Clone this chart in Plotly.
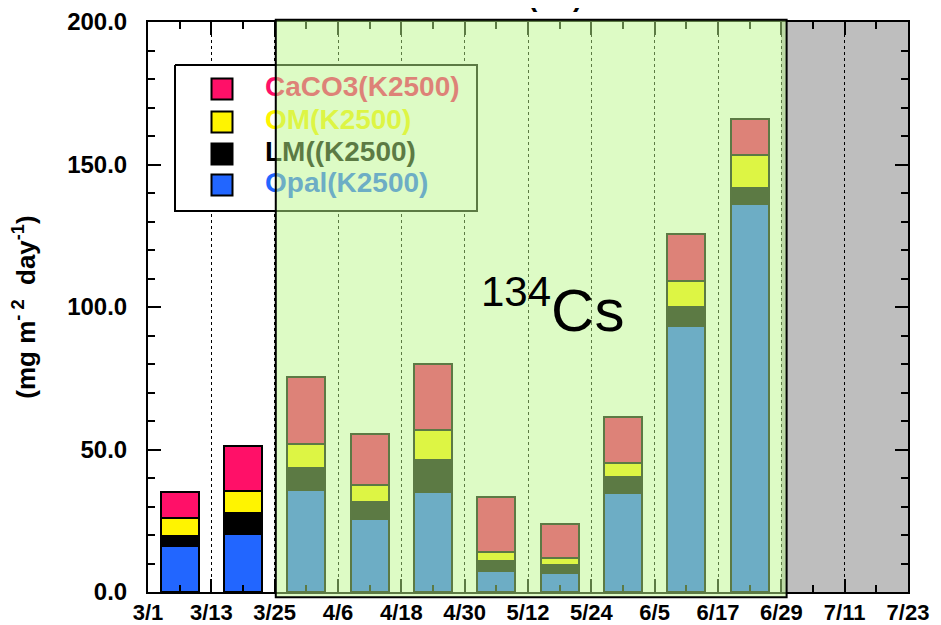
import plotly.graph_objects as go

# ---- data (mg m-2 day-1), bar centred on each 12-day sampling interval ----
dates = ["2011-03-07", "2011-03-19", "2011-03-31", "2011-04-12", "2011-04-24",
         "2011-05-06", "2011-05-18", "2011-05-30", "2011-06-11", "2011-06-23"]
opal = [16.1, 20.5, 35.9, 25.7, 35.2, 7.3, 6.6, 34.6, 93.4, 136.1]
lm = [3.5, 7.3, 7.5, 5.8, 11.0, 3.6, 2.8, 5.9, 6.5, 5.8]
om = [6.3, 7.7, 8.4, 6.1, 10.7, 3.2, 2.6, 4.7, 9.3, 11.5]
caco3 = [9.3, 15.8, 23.7, 17.8, 23.1, 19.3, 11.9, 16.2, 16.4, 12.6]

series_names = ["Opal(K2500)", "LM((K2500)", "OM(K2500)", "CaCO3(K2500)"]
series_values = [opal, lm, om, caco3]
series_colors = ["#2266ff", "#000000", "#fff400", "#ff1068"]

legend_order = [3, 2, 1, 0]  # CaCO3, OM, LM, Opal (top to bottom)

DAY = 86400000
FONT = "Liberation Sans, Arial, sans-serif"

fig = go.Figure()

for name, vals, col in zip(series_names, series_values, series_colors):
    fig.add_trace(go.Bar(
        x=dates, y=vals, name=name, width=7.2 * DAY,
        marker=dict(color=col, line=dict(color="black", width=2)),
        showlegend=False,
    ))

# ---- hand-drawn legend box on a hidden overlay axis pair (page-pixel-like units) ----
box_x = [175, 477, 477, 175, 175]
box_y = [65, 65, 211, 211, 65]
fig.add_trace(go.Scatter(x=box_x, y=box_y, mode="lines", fill="toself",
                         fillcolor="white", line=dict(color="black", width=2),
                         xaxis="x2", yaxis="y2", showlegend=False, hoverinfo="skip"))
row_y = [89, 122, 154, 185]
for k, idx in enumerate(legend_order):
    fig.add_trace(go.Scatter(
        x=[222], y=[row_y[k]], mode="markers",
        marker=dict(symbol="square", size=21, color=series_colors[idx],
                    line=dict(color="black", width=2)),
        xaxis="x2", yaxis="y2", showlegend=False, hoverinfo="skip"))
    fig.add_trace(go.Scatter(
        x=[265], y=[row_y[k]], mode="text", text=["<b>" + series_names[idx] + "</b>"],
        textposition="middle right",
        textfont=dict(family=FONT, size=28, color=series_colors[idx]),
        xaxis="x2", yaxis="y2", showlegend=False, hoverinfo="skip"))

shapes = [
    # grey (no data) period
    dict(type="rect", xref="x", yref="y", x0="2011-06-29", x1="2011-07-23",
         y0=0, y1=200, fillcolor="#bebebe", line=dict(width=0), layer="below"),
    # translucent green 134Cs period overlay
    dict(type="rect", xref="x", yref="paper", x0="2011-03-25 05:00", x1="2011-06-30",
         y0=-0.009, y1=1.004, fillcolor="rgb(186,247,138)", opacity=0.494,
         line=dict(width=0), layer="above"),
    dict(type="rect", xref="x", yref="paper", x0="2011-03-25 05:00", x1="2011-06-30",
         y0=-0.009, y1=1.004, fillcolor="rgba(0,0,0,0)",
         line=dict(color="black", width=2), layer="above"),
]

annotations = [
    dict(text="<sup>134</sup>Cs", xref="paper", yref="paper", x=0.5325, y=0.502,
         showarrow=False, font=dict(family=FONT, size=60, color="black")),
    dict(text="<b>(K2)</b>", xref="paper", yref="paper", x=0.5355, y=1,
         yanchor="bottom", yshift=8, showarrow=False,
         font=dict(family=FONT, size=28, color="black")),
]

# The page body has an 8px margin: size the figure so the plot area lands
# on the same page pixels as the reference (x 148-908, y 22-592).
fig.update_layout(
    width=933, height=617,
    margin=dict(l=140, r=33, t=14, b=33, autoexpand=False),
    paper_bgcolor="white", plot_bgcolor="white",
    barmode="stack", showlegend=False,
    shapes=shapes, annotations=annotations,
    xaxis=dict(type="date", range=["2011-03-01", "2011-07-23"], automargin=False,
               tick0="2011-03-01", dtick=12 * DAY, tickformat="%-m/%-d",
               ticks="inside", ticklen=13, tickwidth=1.5, tickcolor="black",
               showline=True, linewidth=2, linecolor="black", mirror="ticks",
               showgrid=True, gridcolor="black", griddash="dot", gridwidth=1,
               minor=dict(dtick=6 * DAY, tick0="2011-03-01", ticks="inside",
                          ticklen=7, tickwidth=1.5, tickcolor="black", showgrid=False),
               tickfont=dict(family=FONT, size=22, color="black", weight="bold"),
               ticklabelstandoff=0),
    yaxis=dict(range=[0, 200], dtick=50, tickformat=".1f", automargin=False,
               ticks="inside", ticklen=13, tickwidth=1.5, tickcolor="black",
               showline=True, linewidth=2, linecolor="black", mirror="ticks",
               showgrid=False, zeroline=False,
               minor=dict(dtick=10, ticks="inside", ticklen=7, tickwidth=1.5,
                          tickcolor="black", showgrid=False),
               tickfont=dict(family=FONT, size=24, color="black", weight="bold"),
               ticklabelstandoff=14,
               title=dict(text="<b>(mg m<sup>-\u00a02</sup>\u00a0\u00a0day<sup>-1</sup>)</b>",
                          font=dict(family=FONT, size=26, color="black"),
                          standoff=25)),
    xaxis2=dict(overlaying="x", anchor="y2", range=[148, 908], visible=False,
                fixedrange=True),
    yaxis2=dict(overlaying="y", anchor="x2", range=[592, 22], visible=False,
                fixedrange=True),
)

fig.write_html("out.html")
